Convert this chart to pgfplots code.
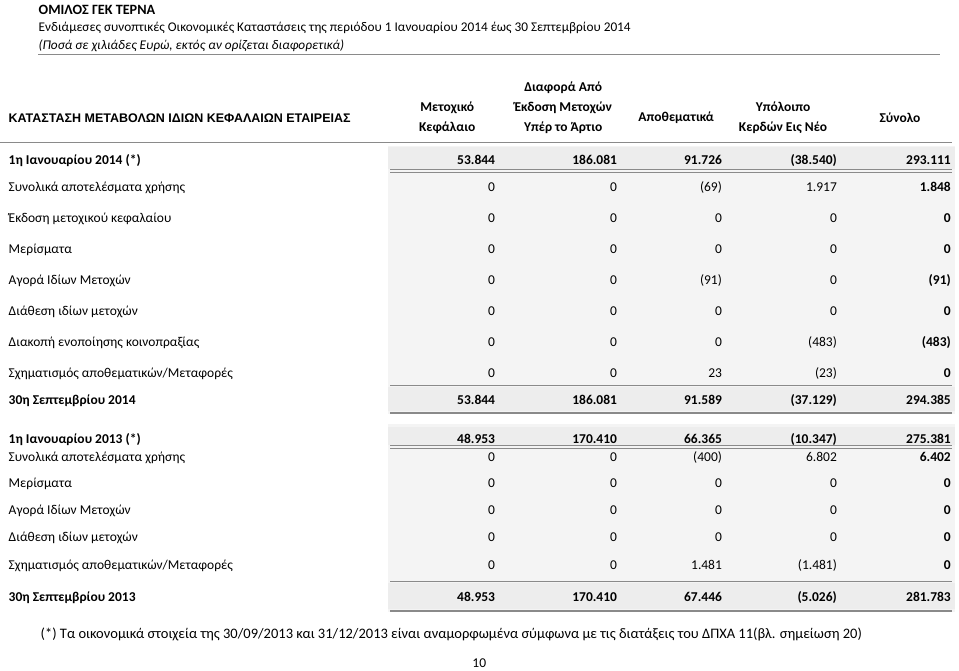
\documentclass[border=0pt]{standalone}
\usepackage{pgfplots}
\usepackage{pgfplotstable}
\pgfplotsset{compat=1.18}
\usepackage{fontspec}
\setmainfont{Carlito}
\newfontfamily\arial{Liberation Sans}
\definecolor{panel}{HTML}{F4F4F4}
\definecolor{rowband}{HTML}{EDEDED}
\definecolor{rule}{HTML}{8A8A8A}

\pgfplotstableread[col sep=semicolon]{
y;label;c1;c2;c3;c4;c5
187;Συνολικά αποτελέσματα χρήσης;0;0;(69);1.917;1.848
218;Έκδοση μετοχικού κεφαλαίου;0;0;0;0;0
249;Μερίσματα;0;0;0;0;0
280;Αγορά Ιδίων Μετοχών;0;0;(91);0;(91)
311;Διάθεση ιδίων μετοχών;0;0;0;0;0
342;Διακοπή ενοποίησης κοινοπραξίας;0;0;0;(483);(483)
373;Σχηματισμός αποθεματικών/Μεταφορές;0;0;23;(23);0
457;Συνολικά αποτελέσματα χρήσης;0;0;(400);6.802;6.402
483;Μερίσματα;0;0;0;0;0
510;Αγορά Ιδίων Μετοχών;0;0;0;0;0
537;Διάθεση ιδίων μετοχών;0;0;0;0;0
565;Σχηματισμός αποθεματικών/Μεταφορές;0;0;1.481;(1.481);0
}\normalrows

\pgfplotstableread[col sep=semicolon]{
y;label;c1;c2;c3;c4;c5
160;1η Ιανουαρίου 2014 (*);53.844;186.081;91.726;(38.540);293.111
400;30η Σεπτεμβρίου 2014;53.844;186.081;91.589;(37.129);294.385
439;1η Ιανουαρίου 2013 (*);48.953;170.410;66.365;(10.347);275.381
597;30η Σεπτεμβρίου 2013;48.953;170.410;67.446;(5.026);281.783
}\boldrows

\newcommand{\bodyfont}{\fontsize{13.5}{16}\selectfont}

\pgfplotsset{
  cell/.style={draw=none, mark=none, nodes near coords, point meta=explicit symbolic,
    nodes near coords style={anchor=base #1, yshift=-4.5pt, inner sep=0pt, text=black}},
}

\begin{document}
\begin{tikzpicture}
\begin{axis}[
  width=959pt, height=671pt, scale only axis,
  xmin=0, xmax=959, ymin=0, ymax=671, y dir=reverse,
  hide axis, clip=false,
]
% page
\path[fill=white] (axis cs:0,0) rectangle (axis cs:959,671);
% panels
\fill[panel] (axis cs:388,146) rectangle (axis cs:955,414);
\fill[panel] (axis cs:388,424) rectangle (axis cs:955,612);
\fill[rowband] (axis cs:388,147) rectangle (axis cs:955,169);
\fill[rowband] (axis cs:388,387) rectangle (axis cs:955,411);
\fill[rowband] (axis cs:388,427) rectangle (axis cs:955,445);
\fill[rowband] (axis cs:388,583) rectangle (axis cs:955,609);

% heading block
\node[anchor=base west, inner sep=0pt, font=\fontsize{14.2}{16}\selectfont\bfseries] at (axis cs:38,15) {ΟΜΙΛΟΣ ΓΕΚ ΤΕΡΝΑ};
\node[anchor=base west, inner sep=0pt, font=\fontsize{13.3}{15}\selectfont] at (axis cs:38,31.5) {Ενδιάμεσες συνοπτικές Οικονομικές Καταστάσεις της περιόδου 1 Ιανουαρίου 2014 έως 30 Σεπτεμβρίου 2014};
\node[anchor=base west, inner sep=0pt, font=\fontsize{13.3}{15}\selectfont\itshape] at (axis cs:38,49.5) {(Ποσά σε χιλιάδες Ευρώ, εκτός αν ορίζεται διαφορετικά)};
\draw[rule, line width=1.2pt] (axis cs:38,54.5) -- (axis cs:940,54.5);

% column header
\node[anchor=base west, inner sep=0pt, font=\arial\fontsize{12.5}{14}\selectfont\bfseries] at (axis cs:8,122.5) {ΚΑΤΑΣΤΑΣΗ ΜΕΤΑΒΟΛΩΝ ΙΔΙΩΝ ΚΕΦΑΛΑΙΩΝ ΕΤΑΙΡΕΙΑΣ};
\node[align=center, inner sep=0pt, font=\fontsize{13.5}{20}\selectfont\bfseries] at (axis cs:447,118) {Μετοχικό\\Κεφάλαιο};
\node[align=center, inner sep=0pt, font=\fontsize{13.5}{20}\selectfont\bfseries] at (axis cs:563,108) {Διαφορά Από\\Έκδοση Μετοχών\\Υπέρ το Άρτιο};
\node[align=center, inner sep=0pt, font=\fontsize{13.5}{20}\selectfont\bfseries] at (axis cs:676,118) {Αποθεματικά};
\node[align=center, inner sep=0pt, font=\fontsize{13.5}{20}\selectfont\bfseries] at (axis cs:783,118) {Υπόλοιπο\\Κερδών Εις Νέο};
\node[align=center, inner sep=0pt, font=\fontsize{13.5}{20}\selectfont\bfseries] at (axis cs:900,118) {Σύνολο};
\draw[rule, line width=1pt] (axis cs:0,143) -- (axis cs:952,143);

% rules in table
\draw[rule, line width=0.9pt] (axis cs:390,170) -- (axis cs:952,170);
\draw[rule, line width=0.9pt] (axis cs:390,173) -- (axis cs:952,173);
\draw[rule, line width=1pt] (axis cs:390,386) -- (axis cs:952,386);
\draw[rule, line width=2.2pt] (axis cs:390,413) -- (axis cs:952,413);
\draw[rule, line width=0.9pt] (axis cs:390,446) -- (axis cs:952,446);
\draw[rule, line width=0.9pt] (axis cs:390,449) -- (axis cs:952,449);
\draw[rule, line width=1pt] (axis cs:390,582) -- (axis cs:952,582);
\draw[rule, line width=2.2pt] (axis cs:390,611) -- (axis cs:952,611);

% row labels
\addplot[cell=west, nodes near coords style={font=\bodyfont}] table[x expr=8, y=y, meta=label] {\normalrows};
\addplot[cell=west, nodes near coords style={font=\bodyfont\bfseries}] table[x expr=8, y=y, meta=label] {\boldrows};
% normal values
\addplot[cell=east, nodes near coords style={font=\bodyfont}] table[x expr=495, y=y, meta=c1] {\normalrows};
\addplot[cell=east, nodes near coords style={font=\bodyfont}] table[x expr=617, y=y, meta=c2] {\normalrows};
\addplot[cell=east, nodes near coords style={font=\bodyfont}] table[x expr=722, y=y, meta=c3] {\normalrows};
\addplot[cell=east, nodes near coords style={font=\bodyfont}] table[x expr=837, y=y, meta=c4] {\normalrows};
\addplot[cell=east, nodes near coords style={font=\bodyfont\bfseries}] table[x expr=951, y=y, meta=c5] {\normalrows};
% bold rows
\addplot[cell=east, nodes near coords style={font=\bodyfont\bfseries}] table[x expr=495, y=y, meta=c1] {\boldrows};
\addplot[cell=east, nodes near coords style={font=\bodyfont\bfseries}] table[x expr=617, y=y, meta=c2] {\boldrows};
\addplot[cell=east, nodes near coords style={font=\bodyfont\bfseries}] table[x expr=722, y=y, meta=c3] {\boldrows};
\addplot[cell=east, nodes near coords style={font=\bodyfont\bfseries}] table[x expr=837, y=y, meta=c4] {\boldrows};
\addplot[cell=east, nodes near coords style={font=\bodyfont\bfseries}] table[x expr=951, y=y, meta=c5] {\boldrows};

% footnote and page number
\node[anchor=base west, inner sep=0pt, font=\fontsize{14.5}{16}\selectfont] at (axis cs:40,639) {(*) Τα οικονομικά στοιχεία της 30/09/2013 και 31/12/2013 είναι αναμορφωμένα σύμφωνα με τις διατάξεις του ΔΠΧΑ 11(βλ. σημείωση 20)};
\node[anchor=base, inner sep=0pt, font=\fontsize{13.5}{16}\selectfont] at (axis cs:479,668) {10};
\end{axis}
\end{tikzpicture}
\end{document}
